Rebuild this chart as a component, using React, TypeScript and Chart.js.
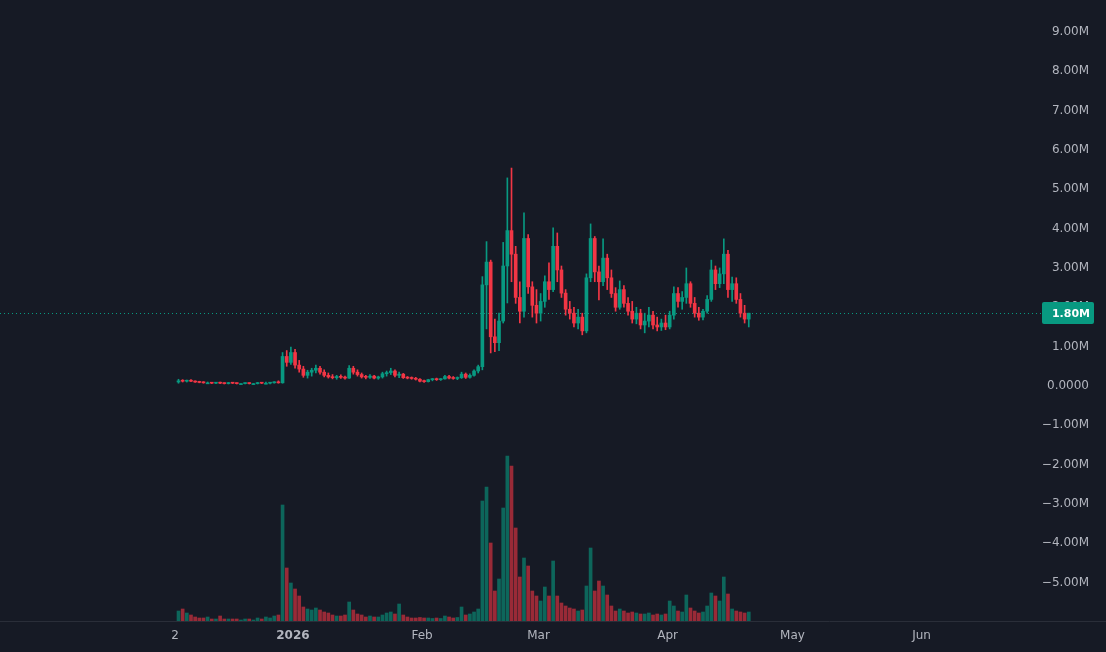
import React, { useEffect, useRef } from "react";
import { Chart, registerables } from "chart.js";

Chart.register(...registerables);

// Day offsets are counted from 1 Jan 2026; first candle = 4 Dec 2025 (one candle per day)
const firstDay = -28;

const opens = [
  0.05, 0.08, 0.07, 0.09, 0.07, 0.05, 0.04, 0.03, 0.03, 0.02, 0.03, 0.02, 0.01, 0.03, 0.02, 0.01, 0.01, 0.02, 0.01, 0.01,
  0.03, 0.02, 0.02, 0.03, 0.04, 0.03, 0.70, 0.55, 0.80, 0.48, 0.38, 0.22, 0.30, 0.35, 0.40, 0.30, 0.22, 0.18, 0.16, 0.19,
  0.17, 0.15, 0.40, 0.30, 0.24, 0.18, 0.17, 0.20, 0.15, 0.18, 0.26, 0.29, 0.33, 0.22, 0.25, 0.16, 0.15, 0.14, 0.12, 0.07,
  0.06, 0.11, 0.12, 0.11, 0.13, 0.19, 0.15, 0.14, 0.16, 0.25, 0.17, 0.22, 0.33, 0.44, 2.52, 3.10, 1.20, 1.05, 1.60, 3.00,
  3.90, 3.30, 2.20, 1.85, 3.70, 2.47, 2.00, 1.80, 2.10, 2.60, 2.40, 3.50, 2.90, 2.31, 1.90, 1.80, 1.55, 1.70, 1.35, 2.70,
  3.70, 2.85, 2.60, 3.20, 2.70, 2.30, 1.95, 2.40, 2.05, 1.85, 1.65, 1.80, 1.50, 1.60, 1.75, 1.50, 1.45, 1.55, 1.45, 1.75,
  2.30, 2.10, 2.20, 2.55, 2.05, 1.80, 1.70, 1.85, 2.15, 2.90, 2.55, 2.80, 3.30, 2.40, 2.55, 2.15, 1.80, 1.65,
];
const highs = [
  0.12, 0.11, 0.10, 0.11, 0.08, 0.07, 0.06, 0.05, 0.04, 0.04, 0.05, 0.03, 0.04, 0.04, 0.03, 0.02, 0.03, 0.03, 0.02, 0.04,
  0.04, 0.05, 0.04, 0.06, 0.08, 0.80, 0.85, 0.94, 0.88, 0.60, 0.45, 0.35, 0.40, 0.48, 0.45, 0.36, 0.28, 0.24, 0.22, 0.23,
  0.20, 0.47, 0.45, 0.36, 0.28, 0.22, 0.24, 0.22, 0.20, 0.30, 0.33, 0.40, 0.36, 0.30, 0.27, 0.19, 0.18, 0.17, 0.14, 0.10,
  0.12, 0.14, 0.15, 0.14, 0.22, 0.22, 0.19, 0.18, 0.30, 0.28, 0.26, 0.36, 0.48, 2.73, 3.62, 3.15, 1.65, 1.80, 3.60, 5.24,
  5.49, 3.50, 2.60, 4.35, 3.80, 2.60, 2.40, 2.30, 2.75, 3.08, 3.97, 3.84, 3.00, 2.40, 2.10, 1.95, 1.90, 1.80, 2.80, 4.07,
  3.75, 3.00, 3.69, 3.30, 2.90, 2.45, 2.62, 2.50, 2.20, 2.10, 1.95, 1.90, 1.80, 1.95, 1.85, 1.70, 1.65, 1.75, 1.85, 2.47,
  2.45, 2.35, 2.95, 2.60, 2.20, 1.95, 1.90, 2.25, 3.15, 3.00, 2.95, 3.69, 3.40, 2.72, 2.70, 2.30, 2.00, 1.80,
];
const lows = [
  0.02, 0.05, 0.05, 0.06, 0.04, 0.03, 0.02, 0.01, 0.01, 0.01, 0.01, 0.00, 0.00, 0.01, 0.00, 0.00, 0.00, 0.00, 0.00, 0.00,
  0.01, 0.00, 0.00, 0.02, 0.02, 0.02, 0.45, 0.50, 0.40, 0.30, 0.17, 0.15, 0.20, 0.28, 0.25, 0.18, 0.15, 0.13, 0.12, 0.14,
  0.12, 0.14, 0.25, 0.20, 0.15, 0.13, 0.14, 0.13, 0.12, 0.15, 0.20, 0.24, 0.18, 0.16, 0.14, 0.13, 0.12, 0.10, 0.05, 0.04,
  0.05, 0.08, 0.09, 0.09, 0.12, 0.13, 0.12, 0.11, 0.14, 0.14, 0.15, 0.20, 0.28, 0.36, 1.40, 0.79, 0.82, 0.85, 1.55, 2.06,
  2.60, 2.05, 1.55, 1.70, 2.30, 1.70, 1.55, 1.60, 1.95, 2.15, 2.35, 2.60, 2.20, 1.75, 1.65, 1.45, 1.40, 1.25, 1.30, 2.60,
  2.60, 2.14, 2.50, 2.40, 2.20, 1.85, 1.90, 1.95, 1.75, 1.55, 1.53, 1.40, 1.30, 1.45, 1.40, 1.35, 1.36, 1.38, 1.40, 1.65,
  1.95, 1.90, 2.05, 1.95, 1.70, 1.62, 1.63, 1.80, 2.10, 2.40, 2.45, 2.55, 2.20, 2.10, 2.05, 1.70, 1.55, 1.45,
];
const closes = [
  0.08, 0.07, 0.09, 0.07, 0.05, 0.04, 0.03, 0.03, 0.02, 0.03, 0.02, 0.01, 0.03, 0.02, 0.01, 0.01, 0.02, 0.01, 0.01, 0.03,
  0.02, 0.02, 0.03, 0.04, 0.03, 0.70, 0.55, 0.80, 0.48, 0.38, 0.22, 0.30, 0.35, 0.40, 0.30, 0.22, 0.18, 0.16, 0.19, 0.17,
  0.15, 0.40, 0.30, 0.24, 0.18, 0.17, 0.20, 0.15, 0.18, 0.26, 0.29, 0.33, 0.22, 0.25, 0.16, 0.15, 0.14, 0.12, 0.07, 0.06,
  0.11, 0.12, 0.11, 0.13, 0.19, 0.15, 0.14, 0.16, 0.25, 0.17, 0.22, 0.33, 0.44, 2.52, 3.10, 1.20, 1.05, 1.60, 3.00, 3.90,
  3.30, 2.20, 1.85, 3.70, 2.47, 2.00, 1.80, 2.10, 2.60, 2.40, 3.50, 2.90, 2.31, 1.90, 1.80, 1.55, 1.70, 1.35, 2.70, 3.70,
  2.85, 2.60, 3.20, 2.70, 2.30, 1.95, 2.40, 2.05, 1.85, 1.65, 1.80, 1.50, 1.60, 1.75, 1.50, 1.45, 1.55, 1.45, 1.75, 2.30,
  2.10, 2.20, 2.55, 2.05, 1.80, 1.70, 1.85, 2.15, 2.90, 2.55, 2.80, 3.30, 2.40, 2.55, 2.15, 1.80, 1.65, 1.80,
];
// volume, thousands
const volumes = [
  100, 120, 80, 60, 40, 30, 30, 40, 20, 20, 50, 20, 20, 20, 20, 10, 20, 20, 10, 30,
  20, 40, 30, 50, 60, 1160, 530, 380, 320, 250, 140, 120, 110, 130, 110, 90, 80, 60, 50, 50,
  60, 190, 110, 70, 60, 40, 50, 40, 40, 60, 80, 90, 70, 170, 60, 40, 30, 30, 35, 30,
  30, 25, 30, 25, 50, 40, 30, 35, 140, 60, 70, 90, 120, 1200, 1340, 780, 300, 420, 1130, 1650,
  1550, 930, 440, 630, 550, 300, 250, 200, 340, 250, 600, 250, 180, 150, 130, 120, 100, 110, 350, 730,
  300, 400, 350, 260, 150, 100, 120, 100, 80, 90, 80, 70, 70, 80, 60, 70, 60, 70, 200, 150,
  100, 90, 260, 130, 100, 80, 90, 150, 280, 250, 200, 440, 270, 120, 100, 90, 80, 90,
];

const xTickDays = [-28.3, 0, 31, 59, 90, 120, 151];
const xTickLabels = ["2", "2026", "Feb", "Mar", "Apr", "May", "Jun"];
const yTickValues = [-5, -4, -3, -2, -1, 0, 1, 2, 3, 4, 5, 6, 7, 8, 9];
const lastPrice = 1.8;

const UP = "#089981";
const DOWN = "#F23645";
const UP_VOL = "rgba(8,153,129,0.6)";
const DOWN_VOL = "rgba(242,54,69,0.6)";
const BG = "#161A25";
const TEXT = "#B2B5BE";
const FONT = "'DejaVu Sans', sans-serif";

function formatPrice(v: number): string {
  if (v === 0) return "0.0000";
  if (v < 0) return "\u2212" + Math.abs(v).toFixed(2) + "M";
  return v.toFixed(2) + "M";
}

export default function App() {
  const ref = useRef<HTMLCanvasElement | null>(null);

  useEffect(() => {
    if (!ref.current) return;
    const days = opens.map((_, i) => firstDay + i + 0.5);
    const isUp = opens.map((o, i) => closes[i] >= o);

    const overlay = {
      id: "overlay",
      beforeDatasetsDraw(chart: any) {
        const { ctx } = chart;
        const y = Math.round(chart.scales.y.getPixelForValue(lastPrice)) + 0.5;
        ctx.save();
        ctx.strokeStyle = UP;
        ctx.lineWidth = 1;
        ctx.setLineDash([1, 3]);
        ctx.beginPath();
        ctx.moveTo(0, y);
        ctx.lineTo(1042, y);
        ctx.stroke();
        ctx.restore();
      },
      afterDraw(chart: any) {
        const { ctx } = chart;
        const y = Math.round(chart.scales.y.getPixelForValue(lastPrice));
        const bottom = Math.round(chart.chartArea.bottom) + 0.5;
        ctx.save();
        ctx.strokeStyle = "#2A2E39";
        ctx.lineWidth = 1;
        ctx.beginPath();
        ctx.moveTo(0, bottom);
        ctx.lineTo(chart.width, bottom);
        ctx.stroke();
        ctx.fillStyle = UP;
        ctx.beginPath();
        ctx.roundRect(1042, y - 11, 52, 22, 2);
        ctx.fill();
        ctx.fillStyle = "#FFFFFF";
        ctx.font = `bold 11px ${FONT}`;
        ctx.textAlign = "center";
        ctx.textBaseline = "middle";
        ctx.fillText(formatPrice(lastPrice), 1071, y + 1);
        ctx.restore();
      },
    };

    const chart = new Chart(ref.current, {
      type: "bar",
      data: {
        datasets: [
          {
            label: "body",
            data: days.map((d, i) => ({ x: d, y: [opens[i], closes[i]] })) as any,
            backgroundColor: isUp.map((u) => (u ? UP : DOWN)),
            barThickness: 3,
            minBarLength: 1,
            borderWidth: 0,
            grouped: false,
            yAxisID: "y",
          } as any,
          {
            label: "wick",
            data: days.map((d, i) => ({ x: d, y: [lows[i], highs[i]] })) as any,
            backgroundColor: isUp.map((u) => (u ? UP : DOWN)),
            barThickness: 1,
            minBarLength: 1,
            borderWidth: 0,
            grouped: false,
            yAxisID: "y",
          } as any,
          {
            label: "volume",
            data: days.map((d, i) => ({ x: d, y: volumes[i] })) as any,
            backgroundColor: isUp.map((u) => (u ? UP_VOL : DOWN_VOL)),
            barThickness: 3,
            borderWidth: 0,
            grouped: false,
            yAxisID: "yv",
          } as any,
        ],
      },
      options: {
        responsive: false,
        maintainAspectRatio: false,
        animation: false,
        events: [],
        layout: { padding: { left: 0, top: 0, bottom: 0, right: 17 } },
        plugins: { legend: { display: false }, tooltip: { enabled: false } },
        scales: {
          x: {
            type: "linear",
            min: -70.38,
            max: 178.5,
            offset: false,
            grid: { display: false, drawTicks: false },
            border: { display: false },
            afterBuildTicks: (s: any) => {
              s.ticks = xTickDays.map((v) => ({ value: v }));
            },
            afterFit: (s: any) => {
              s.height = 31;
              s.paddingLeft = 0;
              s.paddingRight = 0;
            },
            ticks: {
              autoSkip: false,
              maxRotation: 0,
              minRotation: 0,
              color: TEXT,
              padding: 8,
              font: (c: any) => ({
                family: FONT,
                size: 12,
                weight: c.tick && c.tick.label === "2026" ? "bold" : "normal",
              }),
              callback: (_v: any, i: number) => xTickLabels[i],
            },
          },
          y: {
            type: "linear",
            position: "right",
            min: -6.026,
            max: 9.763,
            grid: { display: false, drawTicks: false },
            border: { display: false },
            afterBuildTicks: (s: any) => {
              s.ticks = yTickValues.map((v) => ({ value: v }));
            },
            afterFit: (s: any) => {
              s.width = 53;
              s.paddingTop = 0;
              s.paddingBottom = 0;
            },
            ticks: {
              color: TEXT,
              padding: 6,
              crossAlign: "far",
              labelOffset: 2,
              font: { family: FONT, size: 12 },
              callback: (v: any) => formatPrice(Number(v)),
            },
          },
          yv: {
            type: "linear",
            display: false,
            min: 0,
            max: 6210,
          },
        },
      } as any,
      plugins: [overlay],
    });

    return () => chart.destroy();
  }, []);

  return (
    <div style={{ position: "fixed", left: 0, top: 0, width: 1106, height: 652, background: BG }}>
      <canvas ref={ref} width={1106} height={652} style={{ display: "block" }} />
    </div>
  );
}
